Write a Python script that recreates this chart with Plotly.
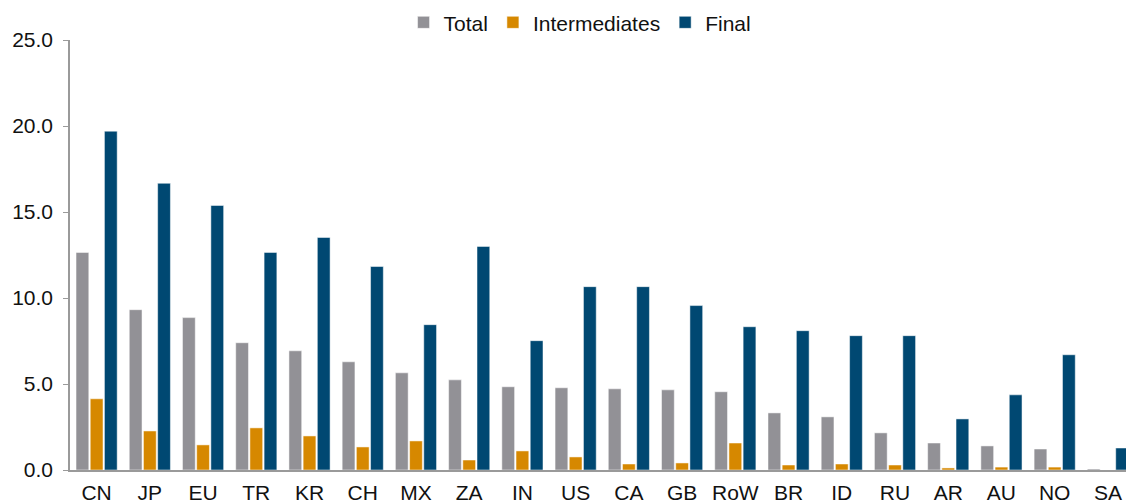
import plotly.graph_objects as go

categories = ["CN", "JP", "EU", "TR", "KR", "CH", "MX", "ZA", "IN", "US",
              "CA", "GB", "RoW", "BR", "ID", "RU", "AR", "AU", "NO", "SA"]
total = [12.65, 9.32, 8.86, 7.40, 6.93, 6.29, 5.65, 5.24, 4.84, 4.78,
         4.72, 4.66, 4.55, 3.32, 3.09, 2.16, 1.57, 1.40, 1.22, 0.06]
intermediates = [4.14, 2.27, 1.46, 2.45, 1.98, 1.34, 1.69, 0.58, 1.11, 0.76,
                 0.35, 0.41, 1.57, 0.29, 0.35, 0.29, 0.12, 0.17, 0.17, 0.0]
final = [19.70, 16.67, 15.38, 12.65, 13.52, 11.83, 8.45, 13.00, 7.52, 10.66,
         10.66, 9.56, 8.33, 8.10, 7.81, 7.81, 2.97, 4.37, 6.70, 1.28]
y_ticks = [0, 5, 10, 15, 20, 25]

FONT = "Liberation Sans, Arial, sans-serif"

fig = go.Figure()
for name, vals, col in [("Total", total, "#929196"),
                        ("Intermediates", intermediates, "#D68800"),
                        ("Final", final, "#004872")]:
    fig.add_trace(go.Bar(x=categories, y=vals, name=name,
                         marker=dict(color=col, line=dict(color="white", width=0.5))))

fig.update_layout(
    width=1126, height=504,
    margin=dict(l=70, r=0, t=40, b=34, autoexpand=False),
    paper_bgcolor="white", plot_bgcolor="white",
    barmode="group", bargap=0.2, bargroupgap=0.1,
    font=dict(family=FONT, size=21, color="#111111"),
    legend=dict(orientation="h", x=0.483, xanchor="center",
                yref="container", y=0.955, yanchor="middle",
                font=dict(size=21), itemwidth=30, tracegroupgap=0,
                bgcolor="rgba(0,0,0,0)"),
    xaxis=dict(range=[-0.5, 19.34], showline=True, linecolor="#9a9a9a", linewidth=2,
               ticks="", showgrid=False, tickfont=dict(size=21), automargin=False,
               ticklabelstandoff=3),
    yaxis=dict(range=[0, 25], tickvals=y_ticks, tickformat=".1f", showline=True,
               linecolor="#9a9a9a", linewidth=1.5, ticks="outside", ticklen=5,
               tickcolor="#9a9a9a", showgrid=False, zeroline=False,
               tickfont=dict(size=21), automargin=False, ticklabelstandoff=6),
)

fig.write_html("out.html", config={"displayModeBar": False},
               post_script="document.body.style.margin='0';document.body.style.overflow='hidden';")
